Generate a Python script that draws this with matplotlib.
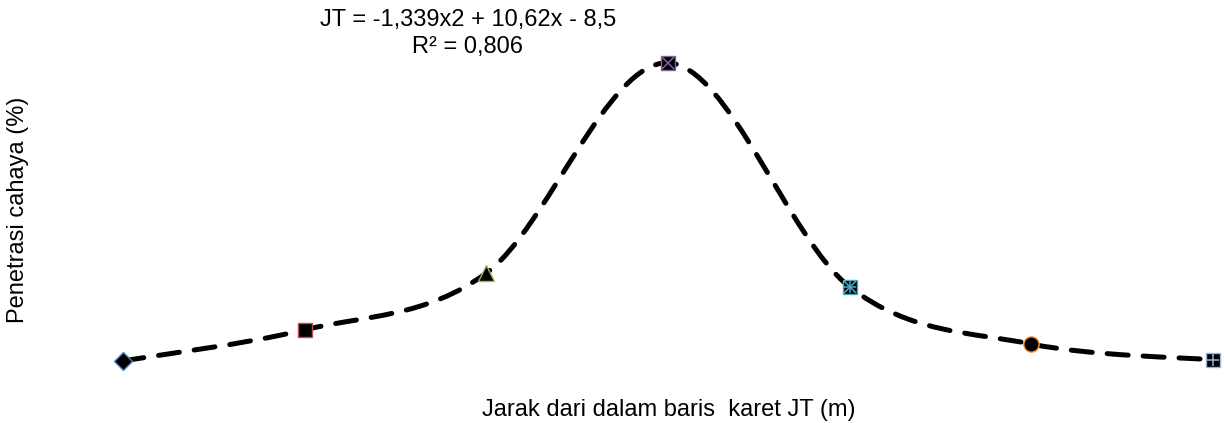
import matplotlib
matplotlib.use("Agg")
import matplotlib.pyplot as plt
from matplotlib.path import Path
from matplotlib.patches import PathPatch
import numpy as np

plt.rcParams['font.family'] = ['Liberation Sans', 'DejaVu Sans']

# jarak (posisi titik) dan penetrasi cahaya
jarak = [1, 2, 3, 4, 5, 6, 7]
penetrasi = [5.8, 15.2, 32.4, 96.1, 28.2, 10.9, 6.1]
warna_tepi = ['#4f81bd', '#c0504d', '#9bbb59', '#8064a2', '#4bacc6', '#f79646', '#95b3d7']
bentuk = ['D', 's', '^', 's', 's', 'o', 's']
tanda = [None, None, None, 'x', '*', None, '+']

persamaan = "JT = -1,339x2 + 10,62x - 8,5"
r2 = "R² = 0,806"


def smooth_path(xs, ys):
    # kurva halus ala Excel (catmull-rom -> bezier)
    p = np.column_stack([xs, ys])
    p = np.vstack([p[0], p, p[-1]])
    verts = [p[1]]
    codes = [Path.MOVETO]
    for i in range(1, len(p) - 2):
        c1 = p[i] + (p[i + 1] - p[i - 1]) / 6
        c2 = p[i + 1] - (p[i + 2] - p[i]) / 6
        verts += [c1, c2, p[i + 1]]
        codes += [Path.CURVE4] * 3
    return Path(verts, codes)


fig = plt.figure(figsize=(12.24, 4.23), dpi=100)
ax = fig.add_axes([123 / 1224, 43 / 423, (1213 - 123) / 1224, 330 / 423])
ax.set_xlim(1, 7)
ax.set_ylim(0, 100)
ax.axis('off')

garis = PathPatch(smooth_path(jarak, penetrasi), fill=False, edgecolor='black',
                  lw=3.6, linestyle=(0, (4.2, 3)), capstyle='round', clip_on=False)
ax.add_patch(garis)

for x, y, m, c, t in zip(jarak, penetrasi, bentuk, warna_tepi, tanda):
    ms = {'D': 9, 's': 10, '^': 11, 'o': 11}[m]
    ax.plot(x, y, marker=m, ms=ms, mfc='black', mec=c, mew=1.0,
            linestyle='none', clip_on=False, zorder=3)
    if t == '*':
        ax.plot(x, y, marker='x', ms=8, mec=c, mew=1.1, clip_on=False, zorder=4)
        ax.plot(x, y, marker='+', ms=9, mec=c, mew=1.1, clip_on=False, zorder=4)
    elif t is not None:
        ax.plot(x, y, marker=t, ms=9, mec=c, mew=1.1, clip_on=False, zorder=4)

fig.text(468 / 1224, 1 - 20 / 423, persamaan, ha='center', va='center', fontsize=17)
fig.text(468 / 1224, 1 - 47 / 423, r2, ha='center', va='center', fontsize=17)
fig.text(669 / 1224, 1 - 410 / 423, "Jarak dari dalam baris  karet JT (m)",
         ha='center', va='center', fontsize=17)
fig.text(18 / 1224, 1 - 210 / 423, "Penetrasi cahaya (%)", ha='center', va='center',
         rotation=90, fontsize=17)

fig.savefig("out.png", dpi=100)
